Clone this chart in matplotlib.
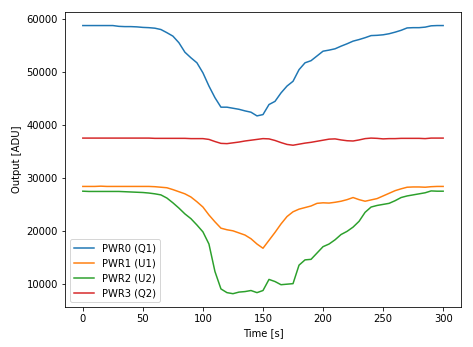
import numpy as np
import matplotlib.pyplot as plt

# sample times [s]
t = np.arange(0, 301, 5)

pwr0 = [58850, 58850, 58850, 58850, 58850, 58850, 58700, 58650, 58650, 58600,
        58500, 58450, 58350, 58100, 57500, 56850, 55600, 53800, 52750, 51800,
        49900, 47400, 45200, 43400, 43400, 43200, 43000, 42700, 42450, 41750,
        42000, 43900, 44500, 46100, 47400, 48300, 50500, 51800, 52200, 53100,
        54000, 54200, 54450, 54950, 55400, 55900, 56200, 56550, 56950, 57000,
        57100, 57300, 57600, 57950, 58400, 58450, 58450, 58550, 58800, 58850,
        58850]

pwr1 = [28400, 28400, 28400, 28450, 28400, 28400, 28400, 28400, 28400, 28400,
        28400, 28400, 28350, 28250, 28150, 27800, 27400, 27000, 26400, 25500,
        24500, 23000, 21700, 20500, 20200, 20000, 19600, 19200, 18500, 17500,
        16700, 18200, 19700, 21300, 22700, 23600, 24100, 24400, 24700, 25200,
        25300, 25250, 25400, 25600, 25900, 26300, 25900, 25600, 25850, 26100,
        26600, 27100, 27600, 27950, 28250, 28300, 28300, 28250, 28350, 28400,
        28400]

pwr2 = [27500, 27450, 27450, 27450, 27450, 27450, 27450, 27400, 27350, 27300,
        27250, 27150, 27000, 26800, 26200, 25300, 24300, 23200, 22300, 21100,
        19800, 17500, 12300, 9000, 8300, 8100, 8400, 8500, 8700, 8300,
        8700, 10800, 10400, 9800, 9900, 10000, 13500, 14500, 14600, 15800,
        17000, 17500, 18300, 19300, 19900, 20700, 21800, 23500, 24500, 24800,
        25000, 25200, 25700, 26300, 26600, 26800, 27000, 27200, 27550, 27500,
        27500]

pwr3 = [37550, 37550, 37550, 37550, 37550, 37550, 37550, 37550, 37550, 37550,
        37550, 37550, 37500, 37500, 37500, 37500, 37500, 37500, 37450, 37450,
        37450, 37300, 36900, 36550, 36500, 36650, 36800, 37000, 37150, 37300,
        37450, 37400, 37100, 36700, 36350, 36200, 36400, 36600, 36750, 36950,
        37150, 37350, 37400, 37200, 37050, 37000, 37200, 37450, 37550, 37500,
        37400, 37450, 37450, 37500, 37500, 37500, 37500, 37450, 37550, 37550,
        37550]

labels = ['PWR0 (Q1)', 'PWR1 (U1)', 'PWR2 (U2)', 'PWR3 (Q2)']

fig = plt.figure(figsize=(473 / 72, 347 / 72), dpi=72)
ax = fig.add_axes([0.137, 0.115, 0.838, 0.85])

for y, lab in zip([pwr0, pwr1, pwr2, pwr3], labels):
    ax.plot(t, y, label=lab, linewidth=1.5)

ax.set_xlabel('Time [s]')
ax.set_ylabel('Output [ADU]')
ax.legend(loc='lower left')

fig.savefig('out.png', dpi=72)
